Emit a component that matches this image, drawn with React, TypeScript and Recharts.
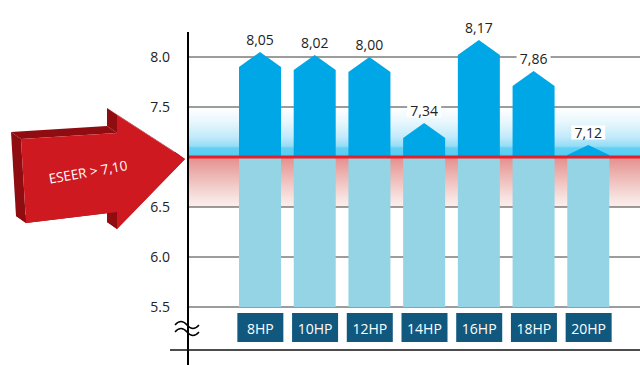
import React from 'react';
import {
  BarChart,
  Bar,
  XAxis,
  YAxis,
  CartesianGrid,
  ReferenceLine,
  LabelList,
} from 'recharts';

// ESEER per model
const models = ['8HP', '10HP', '12HP', '14HP', '16HP', '18HP', '20HP'];
const eseer = [8.05, 8.02, 8.0, 7.34, 8.17, 7.86, 7.12];
const yTicks = [5.5, 6.0, 6.5, 7.5, 8.0];
const threshold = 7.0;
const axisMin = 5.5;
const axisMax = 8.25;

const FONT = '"Open Sans", "DejaVu Sans", sans-serif';

const chartData = models.map((name, i) => ({
  name,
  val: eseer[i],
  range: [axisMin, eseer[i]],
}));

// grid rows on the labelled ticks plus the threshold (hidden under the red line),
// so the stripes between 7.5 / 7.0 / 6.5 can carry the colour bands
const gridValues = [...yTicks, threshold];
const gridRows = (props: any) => {
  const scale = props?.yAxis?.scale;
  if (typeof scale === 'function') return gridValues.map((t) => scale(t));
  const { offset } = props;
  return gridValues.map(
    (t) => offset.top + (offset.height * (axisMax - t)) / (axisMax - axisMin)
  );
};
// stripes top-down: [0..8.0], [8.0..7.5], [7.5..7.0], [7.0..6.5], [6.5..6.0], [6.0..5.5]
const stripeFills = ['none', 'none', 'url(#bandBlue)', 'url(#bandRed)', 'none', 'none'];

// lower part light blue up to the threshold, upper part as an arrow head
const ArrowBar = (props: any) => {
  const { x, y, width, height, payload } = props;
  const top = Math.min(y, y + height);
  const bottom = Math.max(y, y + height);
  const v = payload.val;
  const yT = top + ((bottom - top) * (v - threshold)) / (v - axisMin);
  const cx = x + width / 2;
  const sh = Math.min(top + 15, yT - 2);
  return (
    <g>
      <rect x={x} y={yT} width={width} height={bottom - yT} fill="#95d4e5" />
      <polygon
        points={`${x},${yT + 1} ${x},${sh} ${cx},${top} ${x + width},${sh} ${x + width},${yT + 1}`}
        fill="#00a7e7"
      />
    </g>
  );
};

const ValueLabel = (props: any) => {
  const { x, y, width, value } = props;
  const cx = x + width / 2;
  const cy = y - 12.5;
  const text = Number(value).toFixed(2).replace('.', ',');
  return (
    <g>
      <rect x={cx - 17} y={cy - 7} width={34} height={14} fill="#fff" />
      <text
        x={cx}
        y={cy}
        textAnchor="middle"
        dominantBaseline="central"
        fontSize={14}
        fontFamily={FONT}
        fill="#222"
      >
        {text}
      </text>
    </g>
  );
};

const ModelTick = (props: any) => {
  const { x, y, payload } = props;
  return (
    <g>
      <rect x={x - 23} y={y + 6} width={46} height={29} fill="#11587f" />
      <text
        x={x}
        y={y + 21}
        textAnchor="middle"
        dominantBaseline="central"
        fontSize={14}
        fontFamily={FONT}
        fill="#fff"
      >
        {payload.value}
      </text>
    </g>
  );
};

// 3D red arrow on the left
const front = [
  [21, 139],
  [117, 133],
  [117, 115],
  [185, 159],
  [117, 229],
  [117, 212],
  [26, 223],
];
const depth = [-10, -7];

const RedArrow = () => {
  const pts = (arr: number[][]) => arr.map((p) => p.join(',')).join(' ');
  const sides = front.map((p, i) => {
    const q = front[(i + 1) % front.length];
    return [p, q, [q[0] + depth[0], q[1] + depth[1]], [p[0] + depth[0], p[1] + depth[1]]];
  });
  return (
    <g>
      {sides.map((s, i) => (
        <polygon key={i} points={pts(s)} fill="#8f0c11" />
      ))}
      <polygon points={pts(front)} fill="#cf1920" />
      <text
        x={88}
        y={172}
        textAnchor="middle"
        dominantBaseline="central"
        fontSize={13.5}
        fontFamily={FONT}
        fill="#fff"
        transform="rotate(-10 88 172)"
      >
        ESEER &gt; 7,10
      </text>
    </g>
  );
};

export default function App() {
  return (
    <div
      style={{
        position: 'absolute',
        left: 0,
        top: 0,
        width: 640,
        height: 365,
        background: '#fff',
        fontFamily: FONT,
      }}
    >
      <BarChart
        width={640}
        height={365}
        data={chartData}
        margin={{ top: 32, right: 0, left: 0, bottom: 0 }}
        barSize={42}
      >
        <defs>
          <linearGradient id="bandBlue" x1="0" y1="0" x2="0" y2="1">
            <stop offset="0" stopColor="#ffffff" stopOpacity={1} />
            <stop offset="0.3" stopColor="#e8f7fd" stopOpacity={1} />
            <stop offset="0.6" stopColor="#c2eafa" stopOpacity={1} />
            <stop offset="0.78" stopColor="#94ddf6" stopOpacity={1} />
            <stop offset="0.82" stopColor="#62d0f3" stopOpacity={1} />
            <stop offset="1" stopColor="#55cdf2" stopOpacity={1} />
          </linearGradient>
          <linearGradient id="bandRed" x1="0" y1="0" x2="0" y2="1">
            <stop offset="0" stopColor="#e38f8d" stopOpacity={1} />
            <stop offset="0.4" stopColor="#eeb9b6" stopOpacity={1} />
            <stop offset="0.8" stopColor="#f7e1de" stopOpacity={1} />
            <stop offset="1" stopColor="#fbefed" stopOpacity={1} />
          </linearGradient>
        </defs>
        <CartesianGrid
          vertical={false}
          stroke="#3a3a3a"
          strokeWidth={1}
          horizontalCoordinatesGenerator={gridRows}
          horizontalFill={stripeFills}
          fillOpacity={1}
        />
        <XAxis
          dataKey="name"
          height={58}
          axisLine={false}
          tickLine={false}
          tickSize={0}
          tickMargin={0}
          padding={{ left: 45, right: 24 }}
          tick={<ModelTick />}
          interval={0}
        />
        <YAxis
          width={188}
          domain={[axisMin, axisMax]}
          ticks={yTicks}
          allowDataOverflow
          tickFormatter={(v: number) => v.toFixed(1)}
          tickLine={false}
          tickSize={0}
          tickMargin={18}
          axisLine={{ stroke: '#000', strokeWidth: 2 }}
          tick={{ fill: '#222', fontSize: 14, fontFamily: FONT }}
        />
        <Bar dataKey="range" shape={<ArrowBar />} isAnimationActive={false}>
          <LabelList dataKey="val" content={<ValueLabel />} />
        </Bar>
        <ReferenceLine y={threshold} stroke="#e3202b" strokeWidth={3} />
      </BarChart>
      <svg
        width={640}
        height={365}
        style={{ position: 'absolute', left: 0, top: 0, pointerEvents: 'none' }}
      >
        <RedArrow />
        <line x1={188} y1={306} x2={188} y2={365} stroke="#000" strokeWidth={2} />
        <line x1={170} y1={350} x2={640} y2={350} stroke="#111" strokeWidth={1.6} />
        <path d="M175,325 q6,-7 12,0 t12,0" stroke="#000" strokeWidth={1.4} fill="none" />
        <path d="M175,332 q6,-7 12,0 t12,0" stroke="#000" strokeWidth={1.4} fill="none" />
      </svg>
    </div>
  );
}
